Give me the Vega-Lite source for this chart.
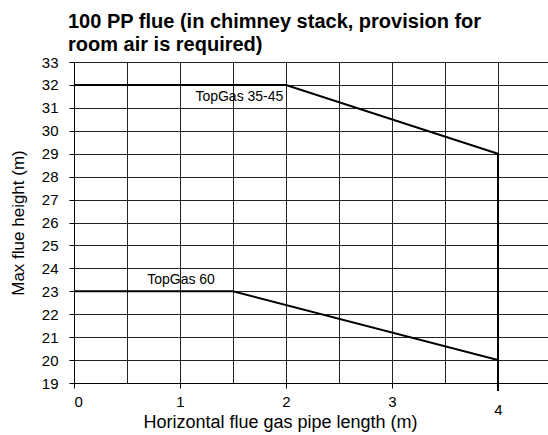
{
  "$schema": "https://vega.github.io/schema/vega-lite/v6.json",
  "width": 477,
  "height": 321,
  "autosize": {"type": "none"},
  "padding": {"left": 74, "top": 62, "right": 0, "bottom": 52},
  "background": "white",
  "title": {
    "text": ["100 PP flue (in chimney stack, provision for", "room air is required)"],
    "anchor": "start",
    "frame": "group",
    "dx": -6,
    "font": "Liberation Sans",
    "fontSize": 20,
    "fontWeight": "bold",
    "color": "black",
    "lineHeight": 23,
    "offset": 0
  },
  "config": {
    "view": {"stroke": null},
    "axis": {
      "domainColor": "black",
      "tickColor": "black",
      "gridColor": "#222",
      "gridOpacity": 1,
      "labelFont": "Liberation Sans",
      "labelFontSize": 15,
      "labelColor": "black",
      "labelOverlap": false,
      "titleFont": "Liberation Sans",
      "titleFontSize": 17,
      "titleFontWeight": "normal",
      "titleColor": "black",
      "tickSize": 5
    }
  },
  "datasets": {
    "lines": [
      {"series": "TopGas 35-45", "order": 1, "x": 0, "y": 32},
      {"series": "TopGas 35-45", "order": 2, "x": 2, "y": 32},
      {"series": "TopGas 35-45", "order": 3, "x": 4, "y": 29},
      {"series": "TopGas 35-45", "order": 4, "x": 4, "y": 18.65},
      {"series": "TopGas 60", "order": 1, "x": 0, "y": 23},
      {"series": "TopGas 60", "order": 2, "x": 1.5, "y": 23},
      {"series": "TopGas 60", "order": 3, "x": 4, "y": 20},
      {"series": "TopGas 60", "order": 4, "x": 4, "y": 18.65}
    ],
    "labels": [
      {"label": "TopGas 35-45", "x": 1.56, "y": 31.47},
      {"label": "TopGas 60", "x": 1.01, "y": 23.5}
    ]
  },
  "encoding": {
    "x": {
      "field": "x", "type": "quantitative",
      "scale": {"domain": [0, 4.5], "nice": false},
      "axis": {
        "title": "Horizontal flue gas pipe length (m)",
        "titleFontSize": 18,
        "values": [0, 0.5, 1, 1.5, 2, 2.5, 3, 3.5, 4, 4.5],
        "labelExpr": "datum.value % 1 == 0 ? format(datum.value, 'd') : ''",
        "grid": true,
        "tickOpacity": {"condition": {"test": "datum.value % 1 != 0", "value": 0}, "value": 1},
        "labelPadding": {"condition": {"test": "datum.value == 4", "value": 14}, "value": 6},
        "titleY": 30,
        "titleX": 206,
        "titleAnchor": "middle"
      }
    },
    "y": {
      "field": "y", "type": "quantitative",
      "scale": {"domain": [19, 33], "nice": false, "zero": false},
      "axis": {
        "title": "Max flue height (m)",
        "values": [19, 20, 21, 22, 23, 24, 25, 26, 27, 28, 29, 30, 31, 32, 33],
        "labelPadding": 11,
        "grid": true,
        "titleX": -47
      }
    }
  },
  "layer": [
    {
      "data": {"name": "lines"},
      "mark": {"type": "line", "color": "black", "strokeWidth": 2, "clip": false},
      "encoding": {
        "detail": {"field": "series"},
        "order": {"field": "order"}
      }
    },
    {
      "data": {"name": "labels"},
      "mark": {"type": "text", "font": "Liberation Sans", "fontSize": 14, "color": "black"},
      "encoding": {
        "text": {"field": "label"}
      }
    }
  ]
}
